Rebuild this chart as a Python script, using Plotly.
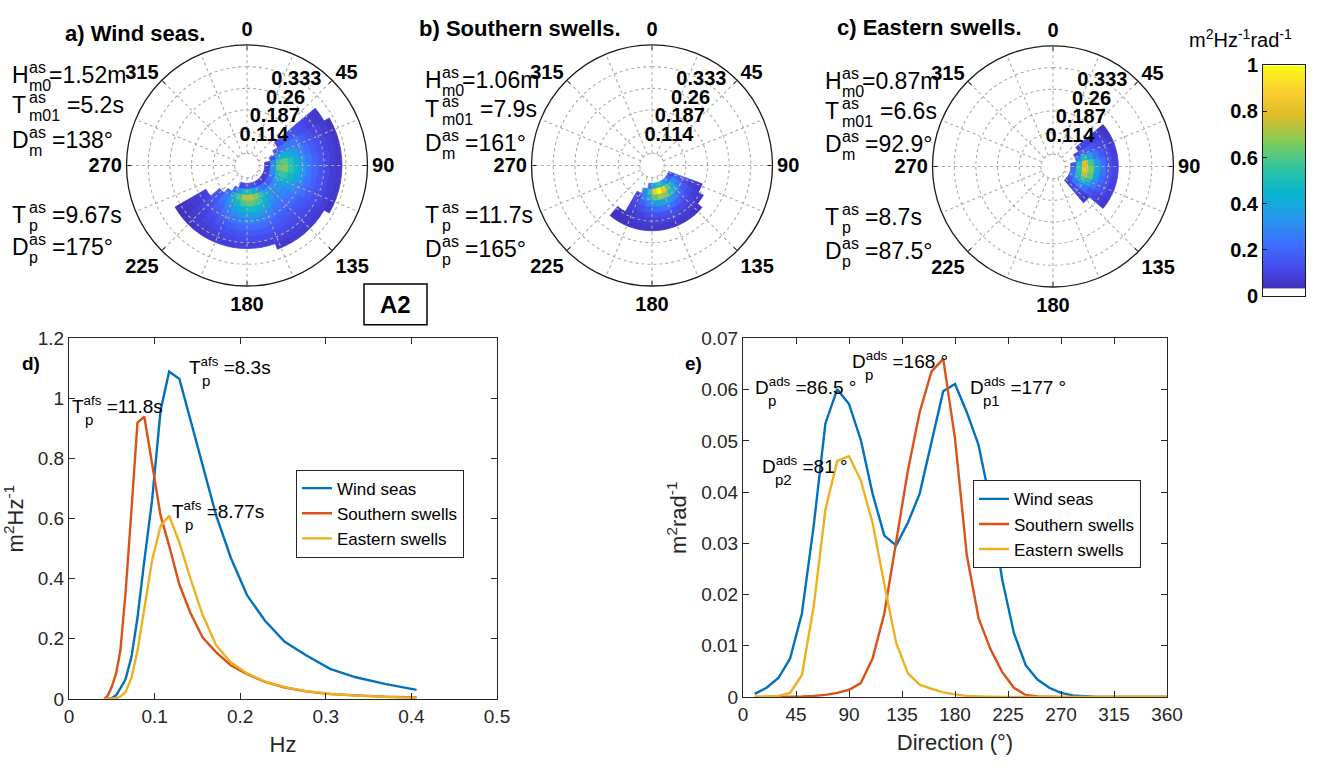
import numpy as np
import plotly.graph_objects as go

W, H = 1339, 775


def X(px):
    return px / W


def Y(py):
    return 1 - py / H


# ------------------------------------------------------------------ data
# 1-D frequency spectra (panel d)
freq_hz = [0.041, 0.045, 0.050, 0.055, 0.060, 0.066, 0.073, 0.080, 0.088, 0.097,
           0.107, 0.117, 0.129, 0.142, 0.156, 0.172, 0.189, 0.208, 0.229, 0.252,
           0.277, 0.305, 0.335, 0.369, 0.406]
wind_fs = [0, 0, 0.003, 0.012, 0.035, 0.065, 0.14, 0.27, 0.46, 0.66,
           0.96, 1.09, 1.065, 0.93, 0.78, 0.61, 0.47, 0.345, 0.26, 0.19,
           0.145, 0.10, 0.072, 0.05, 0.03]
south_fs = [0, 0.01, 0.04, 0.085, 0.16, 0.35, 0.63, 0.92, 0.94, 0.78,
            0.61, 0.51, 0.38, 0.285, 0.205, 0.155, 0.112, 0.082, 0.057, 0.038,
            0.025, 0.016, 0.011, 0.007, 0.005]
east_fs = [0, 0, 0, 0.002, 0.008, 0.022, 0.07, 0.16, 0.30, 0.46,
           0.575, 0.61, 0.52, 0.40, 0.28, 0.178, 0.122, 0.085, 0.058, 0.039,
           0.026, 0.017, 0.011, 0.006, 0.003]

# 1-D directional spectra (panel e)
dir_deg = [10, 20, 30, 40, 50, 60, 70, 80, 90, 100, 110, 120, 130, 140, 150, 160, 170, 180,
           190, 200, 210, 220, 230, 240, 250, 260, 270, 280, 290, 300, 310, 320, 330, 340, 350, 360]
wind_ds = [0.0006, 0.0018, 0.0037, 0.0075, 0.0163, 0.0334, 0.0534, 0.0601, 0.0572, 0.0502,
           0.0397, 0.0315, 0.0296, 0.034, 0.0397, 0.0499, 0.0597, 0.0611, 0.0556, 0.0492,
           0.038, 0.023, 0.0125, 0.0062, 0.0034, 0.0018, 0.0008, 0.0003, 0.0001, 0,
           0, 0, 0, 0, 0, 0]
south_ds = [0, 0, 0, 0, 0.0001, 0.0002, 0.0004, 0.0008, 0.0014, 0.0027,
            0.0075, 0.0163, 0.0303, 0.0442, 0.0556, 0.0635, 0.066, 0.0505, 0.0277, 0.0154,
            0.0094, 0.0049, 0.0018, 0.0004, 0.0001, 0, 0, 0, 0, 0,
            0, 0, 0, 0, 0, 0]
east_ds = [0, 0.0001, 0.0002, 0.0008, 0.0043, 0.0176, 0.0366, 0.0461, 0.047, 0.0423,
           0.034, 0.022, 0.0106, 0.0046, 0.0024, 0.0016, 0.0009, 0.0005, 0.0002, 0.0001,
           0, 0, 0, 0, 0, 0, 0, 0, 0, 0,
           0, 0, 0, 0, 0, 0]

# 2-D normalised spectra (panels a-c): rows = frequency bin centres, cols = direction bin centres
wind_f = [0.07, 0.09, 0.11, 0.13, 0.15, 0.17, 0.19, 0.21, 0.23, 0.25, 0.27, 0.29, 0.31]
wind_d = [55, 65, 75, 85, 95, 105, 115, 125, 135, 145, 155, 165, 175, 185, 195, 205, 215, 225, 235]
wind_E = [
    [0, 0, 0, .07, .09, .09, .08, .07, .07, .08, .10, .12, .14, .14, .10, 0, 0, 0, 0],
    [0, 0, .14, .30, .36, .30, .22, .18, .18, .22, .30, .42, .50, .48, .36, .20, 0, 0, 0],
    [0, .14, .36, .56, .62, .50, .38, .30, .30, .38, .52, .66, .76, .73, .58, .40, .22, 0, 0],
    [.12, .22, .44, .62, .66, .55, .42, .33, .30, .35, .46, .58, .62, .58, .48, .36, .25, .14, 0],
    [.15, .26, .40, .52, .55, .48, .38, .30, .27, .30, .38, .45, .48, .45, .38, .30, .22, .15, 0],
    [.16, .25, .34, .42, .44, .40, .32, .26, .23, .25, .30, .35, .36, .34, .30, .24, .18, .13, .09],
    [.15, .22, .28, .33, .34, .31, .26, .22, .19, .20, .24, .27, .28, .26, .23, .19, .15, .11, .08],
    [.13, .18, .22, .25, .26, .24, .21, .18, .16, .17, .19, .21, .21, .20, .18, .15, .12, .09, .07],
    [.11, .14, .17, .19, .20, .19, .17, .15, .13, .14, .15, .16, .16, .15, .14, .12, .10, .08, .06],
    [.09, .11, .13, .15, .15, .15, .13, .12, .11, .11, .12, .12, .12, .12, .11, .09, .08, .07, .05],
    [.07, .09, .10, .11, .11, .11, .10, .09, .09, .09, .09, .09, .09, .09, .08, .07, .06, .05, .04],
    [.06, .07, .08, .08, .08, .08, .08, .07, .07, .07, .06, 0, 0, 0, 0, 0, 0, 0, 0],
    [0, .05, .06, .06, .06, .06, .05, 0, 0, 0, 0, 0, 0, 0, 0, 0, 0, 0, 0],
]
south_f = [0.07, 0.09, 0.11, 0.13, 0.15, 0.17, 0.19, 0.21]
south_d = [115, 125, 135, 145, 155, 165, 175, 185, 195, 205, 215]
south_E = [
    [.12, .18, .25, .35, .45, .50, .40, .22, 0, 0, 0],
    [.18, .30, .42, .62, .85, 1.0, .85, .55, .30, 0, 0],
    [.15, .24, .35, .50, .65, .70, .60, .42, .26, .10, 0],
    [.11, .16, .23, .30, .37, .39, .35, .27, .18, .11, 0],
    [.08, .11, .15, .19, .22, .23, .21, .17, .13, .09, 0],
    [.06, .08, .10, .12, .14, .14, .13, .11, .09, .07, 0],
    [0, .06, .07, .08, .09, .09, .09, .08, .07, .05, .05],
    [0, 0, .05, .06, .06, .06, .06, .06, .05, .04, .04],
]
east_f = [0.07, 0.09, 0.11, 0.13, 0.15, 0.17, 0.19, 0.21]
east_d = [55, 65, 75, 85, 95, 105, 115, 125, 135]
east_E = [
    [0, 0, 0, .14, .20, .22, .20, .15, .08],
    [0, .10, .28, .50, .56, .50, .38, .24, .10],
    [.08, .20, .50, .80, .85, .74, .50, .28, .12],
    [.10, .18, .38, .58, .66, .62, .40, .22, .09],
    [.09, .14, .24, .35, .40, .37, .26, .15, .06],
    [.08, .11, .16, .22, .24, .22, .17, .11, 0],
    [.07, .09, .11, .14, .15, .14, .12, .08, 0],
    [.05, .06, .08, .09, .10, .09, .08, .06, 0],
]

# text content
series_names = ["Wind seas", "Southern swells", "Eastern swells"]
panel_titles = ["a) Wind seas.", "b) Southern swells.", "c) Eastern swells."]
stats = [
    ["=1.52m", "=5.2s", "=138°", "=9.67s", "=175°"],
    ["=1.06m", "=7.9s", "=161°", "=11.7s", "=165°"],
    ["=0.87m", "=6.6s", "=92.9°", "=8.7s", "=87.5°"],
]
ring_ticks = [0.114, 0.187, 0.26, 0.333]
ring_label_dir = 30
hole_ring = 0.041
r_max = 0.406
spoke_step = 22.5
label_dirs = [0, 45, 90, 135, 180, 225, 270, 315]

# ------------------------------------------------------------------ style
FONT = "Liberation Sans, Arial, sans-serif"
BLUE, RED, YEL = "#0072BD", "#D95319", "#EDB120"
AXC = "#262626"
PARULA = [
    [0.000, "rgb(62,38,168)"], [0.111, "rgb(71,71,235)"], [0.222, "rgb(62,111,255)"],
    [0.333, "rgb(39,150,235)"], [0.444, "rgb(8,181,208)"], [0.556, "rgb(49,198,159)"],
    [0.667, "rgb(129,204,89)"], [0.778, "rgb(220,189,41)"], [0.889, "rgb(252,207,48)"],
    [1.000, "rgb(249,251,21)"],
]
FBIN, DBIN = 0.02, 10

fig = go.Figure()

# ------------------------------------------------------------------ polar panels
polar_names = ["polar", "polar2", "polar3"]
spectra = [(wind_f, wind_d, wind_E), (south_f, south_d, south_E), (east_f, east_d, east_E)]
spokes = [i * spoke_step for i in range(16)]
circle_theta = list(range(0, 361, 2))
GRID = dict(color="#ababab", width=1.1, dash="dot")

for pname, (fr, dr, M) in zip(polar_names, spectra):
    rr, bb, tt, cc = [], [], [], []
    for i, f in enumerate(fr):
        for j, d in enumerate(dr):
            v = M[i][j]
            if v >= 0.03:
                rr.append(FBIN)
                bb.append(f - FBIN / 2)
                tt.append(d)
                cc.append(v)
    fig.add_trace(go.Barpolar(
        r=rr, base=bb, theta=tt, width=DBIN, subplot=pname, showlegend=False,
        marker=dict(color=cc, coloraxis="coloraxis",
                    line=dict(width=0.8, color=cc, coloraxis="coloraxis")),
        hoverinfo="skip"))
    # dotted grid drawn above the spectrum (as in the original)
    for rv in [hole_ring] + ring_ticks:
        fig.add_trace(go.Scatterpolar(
            r=[rv] * len(circle_theta), theta=circle_theta, mode="lines", subplot=pname,
            line=GRID, showlegend=False, hoverinfo="skip"))
    for a in spokes:
        fig.add_trace(go.Scatterpolar(
            r=[hole_ring, r_max], theta=[a, a], mode="lines", subplot=pname,
            line=GRID, showlegend=False, hoverinfo="skip"))
    # radial (frequency) labels centred on the rings
    fig.add_trace(go.Scatterpolar(
        r=ring_ticks, theta=[ring_label_dir] * len(ring_ticks), mode="text",
        text=[str(v) for v in ring_ticks], textposition="middle center",
        textfont=dict(family=FONT, size=20, color="black", weight="bold"),
        subplot=pname, showlegend=False, hoverinfo="skip"))

polar_centres = [(247, 159), (652, 159), (1053, 160)]
RADIUS = 124


def polar_layout(cx, cy):
    return dict(
        domain=dict(x=[X(cx - RADIUS), X(cx + RADIUS)], y=[Y(cy + RADIUS), Y(cy - RADIUS)]),
        bgcolor="white",
        angularaxis=dict(
            rotation=90, direction="clockwise", tickmode="array", tickvals=label_dirs,
            ticktext=[str(a) for a in label_dirs],
            showgrid=False, showline=True, linecolor="#1a1a1a", linewidth=1.3,
            ticks="inside", ticklen=4, tickcolor="#1a1a1a",
            tickfont=dict(family=FONT, size=20, color="black", weight="bold")),
        radialaxis=dict(
            range=[0, r_max], showticklabels=False, showgrid=False, showline=False,
            ticks=""),
    )


# ------------------------------------------------------------------ line panels
for name, ys, col in zip(series_names, [wind_fs, south_fs, east_fs], [BLUE, RED, YEL]):
    fig.add_trace(go.Scatter(x=freq_hz, y=ys, mode="lines", name=name,
                             line=dict(color=col, width=2.4), xaxis="x", yaxis="y",
                             legend="legend"))
for name, ys, col in zip(series_names, [wind_ds, south_ds, east_ds], [BLUE, RED, YEL]):
    fig.add_trace(go.Scatter(x=dir_deg, y=ys, mode="lines", name=name,
                             line=dict(color=col, width=2.4), xaxis="x2", yaxis="y2",
                             legend="legend2"))

# ------------------------------------------------------------------ colour bar (own axes)
cb_levels = np.round(np.arange(0.035, 1.0, 0.01), 3)
fig.add_trace(go.Heatmap(z=[[v] for v in cb_levels], x=[0], y=cb_levels,
                         coloraxis="coloraxis", xaxis="x3", yaxis="y3",
                         hoverinfo="skip", showscale=False))

tickfont = dict(family=FONT, size=19, color=AXC)


def cart_axis(domain, rng, anchor, **kw):
    d = dict(domain=domain, range=rng, anchor=anchor, showline=True, linecolor=AXC,
             linewidth=1, mirror="ticks", ticks="inside", ticklen=6, tickcolor=AXC,
             showgrid=False, zeroline=False, tickfont=tickfont, automargin=False)
    d.update(kw)
    return d


layout = dict(
    width=W, height=H, margin=dict(l=0, r=0, t=0, b=0),
    paper_bgcolor="white", plot_bgcolor="white",
    font=dict(family=FONT, color="black"),
    coloraxis=dict(cmin=0, cmax=1, colorscale=PARULA, showscale=False),
    xaxis=cart_axis([X(69), X(497)], [0, 0.5], "y", dtick=0.1,
                    title=dict(text="Hz", font=dict(size=22, color=AXC), standoff=10)),
    yaxis=cart_axis([Y(708), Y(337)], [0, 1.2], "x", dtick=0.2,
                    title=dict(text="m<sup>2</sup>Hz<sup>-1</sup>", font=dict(size=22, color=AXC),
                               standoff=8)),
    xaxis2=cart_axis([X(743), X(1167)], [0, 360], "y2", tickmode="array",
                     tickvals=[0, 45, 90, 135, 180, 225, 270, 315, 360],
                     title=dict(text="Direction (°)", font=dict(size=22, color=AXC), standoff=10)),
    yaxis2=cart_axis([Y(706), Y(337)], [0, 0.07], "x2", dtick=0.01,
                     title=dict(text="m<sup>2</sup>rad<sup>-1</sup>", font=dict(size=22, color=AXC),
                                standoff=8)),
    xaxis3=dict(domain=[X(1263), X(1305)], range=[-0.5, 0.5], anchor="y3",
                showticklabels=False, ticks="", showline=True, mirror=True,
                linecolor="#1a1a1a", linewidth=1, showgrid=False, zeroline=False),
    yaxis3=dict(domain=[Y(293), Y(56)], range=[0, 1], anchor="x3", side="left",
                tickmode="array", tickvals=[0, 0.2, 0.4, 0.6, 0.8, 1],
                ticktext=["0", "0.2", "0.4", "0.6", "0.8", "1"],
                ticks="inside", ticklen=4, tickcolor="#1a1a1a",
                showline=True, mirror=True, linecolor="#1a1a1a", linewidth=1,
                showgrid=False, zeroline=False,
                tickfont=dict(family=FONT, size=20, color="black", weight="bold")),
    legend=dict(x=X(296), y=Y(472), xanchor="left", yanchor="top",
                bgcolor="white", bordercolor=AXC, borderwidth=1,
                font=dict(family=FONT, size=17, color="black")),
    legend2=dict(x=X(973), y=Y(483), xanchor="left", yanchor="top",
                 bgcolor="white", bordercolor=AXC, borderwidth=1,
                 font=dict(family=FONT, size=17, color="black")),
)
for pname, (cx, cy) in zip(polar_names, polar_centres):
    layout[pname] = polar_layout(cx, cy)

fig.update_layout(**layout)

# ------------------------------------------------------------------ annotations
ann = []


def text(t, x, y, size, bold=False, xa="left", ya="middle", color="black"):
    ann.append(dict(text=t, x=X(x), y=Y(y), xref="paper", yref="paper", showarrow=False,
                    xanchor=xa, yanchor=ya,
                    font=dict(family=FONT, size=size, color=color,
                              weight="bold" if bold else "normal")))


# panel titles
for t, cx, cy in zip(panel_titles, [135, 520, 929], [23, 18, 17]):
    text(t, cx, cy, 22, bold=True, xa="center")

# statistics beside the polar plots
letters = ["H", "T", "D", "T", "D"]
subs = ["m0", "m01", "m", "p", "p"]
val_dx = [37, 55, 40, 40, 40]
rows_y = [[66, 97, 133, 210, 243], [71, 101, 136, 210, 245], [72, 103, 137, 212, 247]]
for x0, vals, ys in zip([10, 423, 823], stats, rows_y):
    for L, s, v, dx, yc in zip(letters, subs, vals, val_dx, ys):
        text(L, x0, yc, 23)
        text("as", x0 + 17, yc - 8, 16)
        text(s, x0 + 17, yc + 11, 16)
        text(v, x0 + dx, yc, 23)

# colour bar title
text("m<sup>2</sup>Hz<sup>-1</sup>rad<sup>-1</sup>", 1240, 28, 20, xa="center")

# panel d) / e) labels
text("d)", 20, 363, 19, bold=True)
text("e)", 683, 363, 19, bold=True)

peak_labels = [
    ("T<sup>afs</sup> =8.3s", "p", 187, 365),
    ("T<sup>afs</sup> =11.8s", "p", 70, 405),
    ("T<sup>afs</sup> =8.77s", "p", 170, 514),
    ("D<sup>ads</sup> =86.5 °", "p", 753, 386),
    ("D<sup>ads</sup> =168 °", "p", 850, 359),
    ("D<sup>ads</sup> =177 °", "p1", 968, 386),
    ("D<sup>ads</sup> =81 °", "p2", 760, 467),
]
for t, s, x0, yc in peak_labels:
    text(t, x0, yc, 19)
    text(s, x0 + 13, yc + 15, 15)

# A2 box
text("A2", 395.5, 302, 24, bold=True, xa="center")
fig.update_layout(annotations=ann, shapes=[dict(
    type="rect", xref="paper", yref="paper", x0=X(364), x1=X(427), y0=Y(323), y1=Y(281),
    line=dict(color="black", width=1.5))])

fig.write_html("out.html")
